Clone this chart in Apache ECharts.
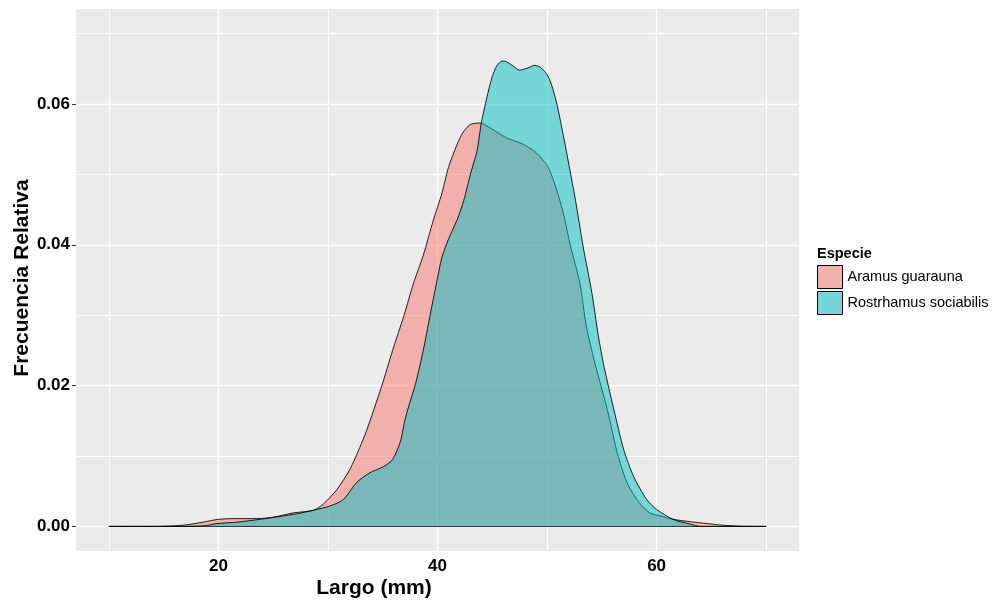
<!DOCTYPE html>
<html>
<head>
<meta charset="utf-8">
<script src="https://cdn.jsdelivr.net/npm/echarts@6/dist/echarts.min.js"></script>
<style>html,body{margin:0;padding:0;background:#fff}#c{width:994px;height:601px}</style>
</head>
<body>
<div id="c"></div>
<script>
// ---- data ----
const seriesNames = ['Aramus guarauna', 'Rostrhamus sociabilis'];
const aramus = [
  [10,0],[14,0],[15.5,0.00005],[17,0.0002],[18.6,0.0006],[20,0.001],[21.5,0.0011],[23.5,0.0011],
  [25,0.0013],[26.8,0.0019],[28.7,0.0023],[29.6,0.0032],[30.8,0.0052],[32,0.0081],[32.9,0.0112],
  [33.5,0.0135],[34.9,0.0199],[35.9,0.025],[36.95,0.030],[37.8,0.0345],[38.7,0.0385],[39.6,0.0434],
  [40.4,0.0473],[41.0,0.051],[41.8,0.0543],[42.3,0.0559],[43.0,0.0571],[43.9,0.0573],[44.8,0.0566],
  [46.3,0.0552],[47.8,0.0543],[49.0,0.0531],[50.1,0.051],[50.9,0.0477],[51.5,0.0444],[52.1,0.0401],
  [53.0,0.0345],[53.6,0.0283],[54.4,0.023],[55.5,0.0166],[56.4,0.0105],[57.3,0.0062],[58.4,0.0034],
  [59.4,0.0019],[60.3,0.0015],[61.5,0.001],[63.1,0.00066],[64.6,0.0004],[65.8,0.0002],[67.6,0.00003],[70,0]
];
const rostrhamus = [
  [10,0],[16.5,0],[18.8,0.0001],[19.85,0.0004],[21.7,0.0006],[23.8,0.001],[25.6,0.0014],[27.2,0.0018],
  [28.7,0.0023],[30.2,0.0029],[31.4,0.0038],[32.6,0.0062],[33.8,0.0076],[35.1,0.0085],[35.9,0.0095],
  [36.6,0.0120],[37.1,0.0156],[38.0,0.0203],[38.7,0.025],[39.3,0.0298],[39.9,0.0345],[40.4,0.0382],
  [41.0,0.0408],[41.8,0.0436],[42.4,0.0463],[43.0,0.05],[43.6,0.0533],[44.0,0.0573],[44.5,0.0609],
  [44.96,0.0637],[45.4,0.0654],[45.9,0.0661],[46.3,0.066],[46.9,0.0654],[47.5,0.0648],[48.2,0.0651],
  [48.9,0.0655],[49.4,0.0652],[50.0,0.0642],[50.4,0.0628],[50.9,0.06],[51.4,0.0562],[51.8,0.0530],
  [52.6,0.0463],[53.3,0.0397],[54.1,0.0331],[54.7,0.0269],[55.2,0.0227],[56.1,0.0166],[57.0,0.0109],
  [57.9,0.0071],[59.1,0.0038],[60.0,0.0024],[61.5,0.001],[63.1,0.0003],[64,0],[70,0]
];
const xTicks = [20, 40, 60];
const yTicks = [0, 0.02, 0.04, 0.06];
const xGrid = [10, 20, 30, 40, 50, 60, 70];
const yGrid = [0, 0.01, 0.02, 0.03, 0.04, 0.05, 0.06, 0.07];
const xRange = [7, 73];
const yRange = [-0.0035, 0.0735];
const densityRange = [10, 70];

// ---- chart ----
const FONT = 'Liberation Sans, Arial, sans-serif';
const chart = echarts.init(document.getElementById('c'), null, {renderer: 'canvas'});

const gridLines = [];
xGrid.forEach(v => gridLines.push({xAxis: v, lineStyle: {width: xTicks.indexOf(v) >= 0 ? 1.3 : 1}}));
yGrid.forEach(v => gridLines.push({yAxis: v, lineStyle: {width: yTicks.indexOf(v) >= 0 ? 1.3 : 1}}));

function densitySeries(name, data, color, z) {
  return {
    name: name, type: 'line', data: data, z: z,
    showSymbol: false, symbol: 'none', smooth: 0.25,
    lineStyle: {color: '#000', width: 1, opacity: 0.85},
    itemStyle: {color: color},
    areaStyle: {color: color, opacity: 0.5, origin: 'auto'},
    emphasis: {disabled: true},
    markLine: {
      silent: true, symbol: 'none', label: {show: false}, z: z,
      lineStyle: {color: '#000', type: 'solid', width: 1, opacity: 0.6},
      data: [[{coord: [densityRange[0], 0]}, {coord: [densityRange[1], 0]}]]
    }
  };
}

chart.setOption({
  animation: false,
  backgroundColor: '#fff',
  grid: {left: 76, top: 9, right: 195, bottom: 50, show: true, backgroundColor: '#EBEBEB', borderWidth: 0, containLabel: false},
  xAxis: {
    type: 'value', min: xRange[0], max: xRange[1],
    axisLine: {show: false},
    splitLine: {show: false},
    axisTick: {show: true, length: 4, lineStyle: {color: '#333', width: 1}, customValues: xTicks},
    axisLabel: {customValues: xTicks, color: '#000', fontFamily: FONT, fontWeight: 'bold', fontSize: 17, margin: 7}
  },
  yAxis: {
    type: 'value', min: yRange[0], max: yRange[1],
    axisLine: {show: false},
    splitLine: {show: false},
    axisTick: {show: true, length: 4, lineStyle: {color: '#333', width: 1}, customValues: yTicks},
    axisLabel: {customValues: yTicks, color: '#000', fontFamily: FONT, fontWeight: 'bold', fontSize: 17, margin: 6,
      formatter: v => Number(v).toFixed(2)}
  },
  legend: {
    orient: 'vertical', left: 812, top: 260,
    icon: 'rect', itemWidth: 25, itemHeight: 23, itemGap: 2,
    selectedMode: false,
    textStyle: {fontFamily: FONT, fontSize: 14.5, color: '#000'},
    data: [
      {name: seriesNames[0], itemStyle: {color: '#F3B1AD', borderColor: '#000', borderWidth: 1}},
      {name: seriesNames[1], itemStyle: {color: '#76D5D7', borderColor: '#000', borderWidth: 1}}
    ]
  },
  graphic: [
    {type: 'text', left: 817, top: 246, style: {text: 'Especie', font: 'bold 14.5px ' + FONT, fill: '#000'}},
    {type: 'text', x: 374, y: 588, style: {text: 'Largo (mm)', font: 'bold 21px ' + FONT, fill: '#000', align: 'center', verticalAlign: 'middle'}},
    {type: 'text', x: 22, y: 278, rotation: Math.PI / 2, style: {text: 'Frecuencia Relativa', font: 'bold 21px ' + FONT, fill: '#000', align: 'center', verticalAlign: 'middle'}}
  ],
  series: [
    {
      name: '__grid', type: 'line', data: [], z: 1, silent: true,
      markLine: {silent: true, symbol: 'none', label: {show: false}, z: 1,
        lineStyle: {color: '#fff', type: 'solid', width: 1, opacity: 1},
        data: gridLines}
    },
    densitySeries(seriesNames[0], aramus, '#F8766D', 2),
    densitySeries(seriesNames[1], rostrhamus, '#00BFC4', 3)
  ]
});
</script>
</body>
</html>
